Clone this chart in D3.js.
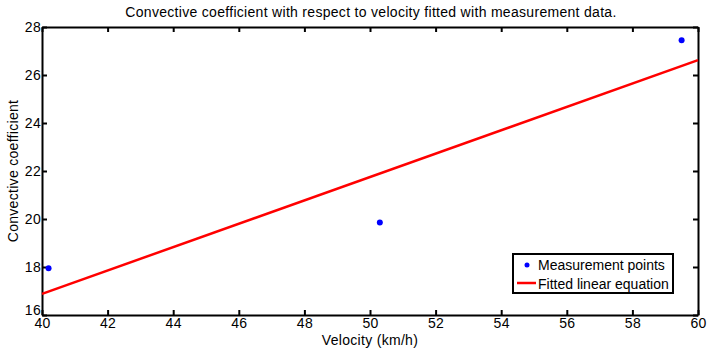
<!DOCTYPE html>
<html>
<head>
<script src="https://d3js.org/d3.v7.min.js"></script>
<style>
  body { margin: 0; background: #fff; }
  text { font-family: "Liberation Sans", Arial, sans-serif; fill: #000; letter-spacing: 0.3px; }
</style>
</head>
<body>
<div id="chart"></div>
<script>
// measured points
const velocity = [40.2, 50.3, 59.5];
const coefficient = [17.95, 19.85, 27.45];
// fitted linear equation, end points
const fitX = [40, 60];
const fitY = [16.88, 26.62];
const xTicks = [40, 42, 44, 46, 48, 50, 52, 54, 56, 58, 60];
const yTicks = [16, 18, 20, 22, 24, 26, 28];
const legendLabels = ["Measurement points", "Fitted linear equation"];

const W = 708, H = 351;
const margin = {top: 27, right: 10, bottom: 36, left: 42};
const width = W - margin.left - margin.right;
const height = H - margin.top - margin.bottom;
const fs = "14px";

const svg = d3.select("#chart").append("svg")
    .attr("width", W)
    .attr("height", H);

const g = svg.append("g")
    .attr("transform", "translate(" + margin.left + "," + margin.top + ")");

const x = d3.scaleLinear().domain([40, 60]).range([0, width]);
const y = d3.scaleLinear().domain([16, 28]).range([height, 0]);

// axes with inward ticks, box on all four sides
const axisStyle = sel => {
  sel.select(".domain").attr("stroke-width", 2);
  sel.selectAll(".tick line").attr("stroke-width", 2);
  sel.selectAll("text").style("font-size", fs).style("font-family", null);
};

g.append("g")
    .attr("transform", "translate(0," + height + ")")
    .call(d3.axisBottom(x).tickValues(xTicks).tickSizeInner(-5).tickSizeOuter(0).tickPadding(3))
    .call(axisStyle);

g.append("g")
    .call(d3.axisTop(x).tickValues(xTicks).tickSizeInner(-5).tickSizeOuter(0).tickFormat(""))
    .call(axisStyle);

g.append("g")
    .call(d3.axisLeft(y).tickValues(yTicks).tickSizeInner(-5).tickSizeOuter(0).tickPadding(1))
    .call(axisStyle)
    .selectAll(".tick text").filter(d => d === 16).attr("dy", "-0.05em");

g.append("g")
    .attr("transform", "translate(" + width + ",0)")
    .call(d3.axisRight(y).tickValues(yTicks).tickSizeInner(-5).tickSizeOuter(0).tickFormat(""))
    .call(axisStyle);

// fitted line
const line = d3.line().x(d => x(d[0])).y(d => y(d[1]));
g.append("path")
    .datum(d3.zip(fitX, fitY))
    .attr("fill", "none")
    .attr("stroke", "#ff0000")
    .attr("stroke-width", 2.5)
    .attr("d", line);

// points
g.selectAll(".pt")
    .data(d3.zip(velocity, coefficient))
    .join("circle")
    .attr("class", "pt")
    .attr("cx", d => x(d[0]))
    .attr("cy", d => y(d[1]))
    .attr("r", 3)
    .attr("fill", "#0000ff");

// title and axis labels
svg.append("text")
    .attr("x", margin.left + width / 2 + 1).attr("y", 17)
    .attr("text-anchor", "middle")
    .style("font-size", fs)
    .text("Convective coefficient with respect to velocity fitted with measurement data.");

svg.append("text")
    .attr("x", margin.left + width / 2).attr("y", 345)
    .attr("text-anchor", "middle")
    .style("font-size", fs)
    .text("Velocity (km/h)");

svg.append("text")
    .attr("transform", "translate(18," + (margin.top + height / 2) + ") rotate(-90)")
    .attr("text-anchor", "middle")
    .style("font-size", fs)
    .text("Convective coefficient");

// legend
const lg = svg.append("g").attr("transform", "translate(513,254)");
lg.append("rect")
    .attr("width", 160).attr("height", 39)
    .attr("fill", "#fff").attr("stroke", "#000").attr("stroke-width", 2);
lg.append("circle").attr("cx", 14).attr("cy", 11).attr("r", 2.5).attr("fill", "#0000ff");
lg.append("line").attr("x1", 4).attr("x2", 23).attr("y1", 29).attr("y2", 29)
    .attr("stroke", "#ff0000").attr("stroke-width", 2.5);
lg.selectAll(".lt")
    .data(legendLabels)
    .join("text")
    .attr("class", "lt")
    .attr("x", 25)
    .attr("y", (d, i) => 16 + i * 19)
    .style("font-size", fs)
    .style("letter-spacing", "0px")
    .text(d => d);
</script>
</body>
</html>
